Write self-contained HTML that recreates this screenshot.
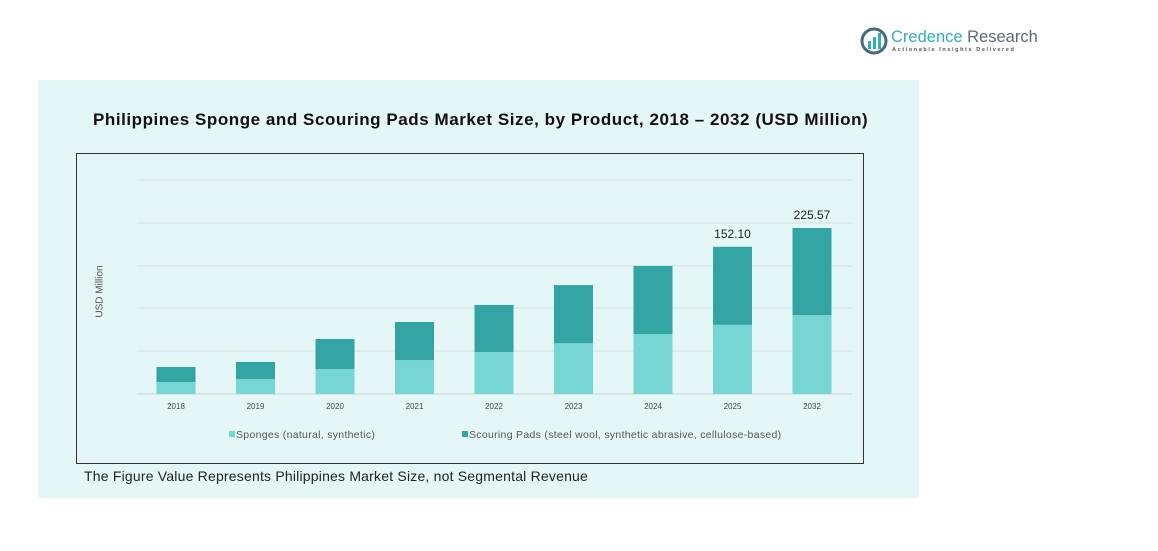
<!DOCTYPE html>
<html><head><meta charset="utf-8"><style>
body{margin:0;width:1158px;height:551px;background:#fff;position:relative;font-family:"Liberation Sans",sans-serif;overflow:hidden}
.abs{position:absolute}
</style></head><body>
<div class="abs" style="left:860px;top:27px;width:180px;height:30px">
<svg width="28" height="28" style="position:absolute;left:0;top:0"><circle cx="14" cy="14" r="12" fill="none" stroke="#4a6a7a" stroke-width="3"/><rect x="8" y="14" width="3" height="8" fill="#2fb0b8"/><rect x="13" y="10" width="3" height="12" fill="#2fb0b8"/><rect x="18" y="6" width="3" height="16" fill="#2fb0b8"/></svg>
<div class="abs" style="left:31px;top:1px;font-size:16.5px;color:#2fb0b8;white-space:nowrap">Credence <span style="color:#5a6a78">Research</span></div>
<div class="abs" style="left:32px;top:20px;font-size:5.5px;letter-spacing:1.6px;color:#555;white-space:nowrap;font-weight:bold">Actionable Insights Delivered</div>
</div>
<div class="abs" style="left:38px;top:80px;width:881px;height:418px;background:#e5f6f6"></div>
<div class="abs" style="left:93px;top:110px;font-size:17px;letter-spacing:0.55px;font-weight:bold;color:#111;white-space:nowrap">Philippines Sponge and Scouring Pads Market Size, by Product, 2018 – 2032 (USD Million)</div>
<div class="abs" style="left:76px;top:153px;width:786px;height:309px;border:1px solid #333"></div>
<div class="abs" style="left:70px;top:286px;width:60px;text-align:center;font-size:10px;color:#555;transform:rotate(-90deg)">USD Million</div>
<svg id="chart" class="abs" style="left:0;top:0" width="1158" height="551"></svg>
<div class="abs" style="left:84px;top:468px;font-size:14px;letter-spacing:0.2px;color:#222">The Figure Value Represents Philippines Market Size, not Segmental Revenue</div>
<script>
const categories=["2018","2019","2020","2021","2022","2023","2024","2025","2032"];
const sponges=[16.3,20.4,34,46,57,69,81.5,94,107];
const scouring=[20.4,23.1,40.7,51.8,64,79,92.5,106,118.57];
const valueLabels=["","","","","","","","152.10","225.57"];
const svg=document.getElementById('chart');
const NS="http://www.w3.org/2000/svg";
const base=394,scale=166/225.57,x0=176,step=79.5,bw=39;
const yPx=v=>base-v*scale;
const xPx=i=>x0+i*step;
function mk(t,a){const e=document.createElementNS(NS,t);for(const k in a)e.setAttribute(k,a[k]);svg.appendChild(e);return e;}
[0,43,86,128,171,214].forEach(d=>{const g=mk('line',{x1:137,x2:852,y1:base-d,y2:base-d,stroke:d?'#d3e2e2':'#c8d4d4','stroke-width':1});

});
categories.forEach((c,i)=>{
 const cx=xPx(i);
 const r1=mk('rect',{x:cx-bw/2,y:yPx(sponges[i]),width:bw,height:sponges[i]*scale,fill:'#77d6d3'});
 
 
 const r2=mk('rect',{x:cx-bw/2,y:yPx(sponges[i]+scouring[i]),width:bw,height:scouring[i]*scale,fill:'#33a4a4'});
 
 
 const t=mk('text',{x:cx,y:409,'text-anchor':'middle','font-size':8,fill:'#444'});t.textContent=c;
 
 
 if(valueLabels[i]){const v=mk('text',{x:cx,y:yPx(sponges[i]+scouring[i])-9,'text-anchor':'middle','font-size':12,fill:'#222'});v.textContent=valueLabels[i];
 
 }
});
const leg=[["Sponges (natural, synthetic)","#77d6d3",229],["Scouring Pads (steel wool, synthetic abrasive, cellulose-based)","#33a4a4",462]];
leg.forEach(l=>{const r=mk('rect',{x:l[2],y:431,width:6,height:6,fill:l[1]});


const t=mk('text',{x:l[2]+7,y:438,'font-size':10.5,'letter-spacing':0.3,fill:'#555'});t.textContent=l[0];

});
</script>
</body></html>
